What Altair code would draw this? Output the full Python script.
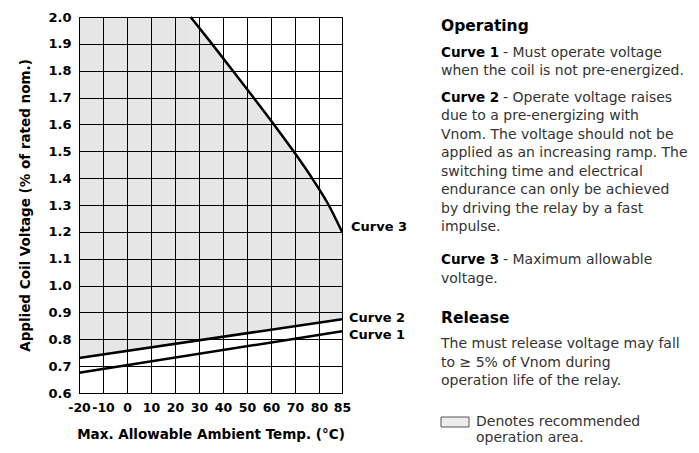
import altair as alt
import pandas as pd

# ---------------- data ----------------
temp_ticks = [-20, -10, 0, 10, 20, 30, 40, 50, 60, 70, 80, 85]
volt_ticks = [0.6, 0.7, 0.8, 0.9, 1.0, 1.1, 1.2, 1.3, 1.4, 1.5, 1.6, 1.7, 1.8, 1.9, 2.0]

curve1_t = [-20, 85]
curve1_v = [0.675, 0.83]
curve2_t = [-20, 85]
curve2_v = [0.73, 0.875]
curve3_t = [26.5, 35.4, 44.1, 52.7, 61.2, 69.4, 77.1, 82.1, 85]
curve3_v = [2.0, 1.9, 1.8, 1.7, 1.6, 1.5, 1.4, 1.3, 1.2]

curve_names = ["Curve 1", "Curve 2", "Curve 3"]

heading1 = "Operating"
para1 = ["- Must operate voltage", "when the coil is not pre-energized."]
para2 = ["- Operate voltage raises", "due to a pre-energizing with",
         "Vnom. The voltage should not be", "applied as an increasing ramp. The",
         "switching time and electrical", "endurance can only be achieved",
         "by driving the relay by a fast", "impulse."]
para3 = ["- Maximum allowable", "voltage."]
heading2 = "Release"
para4 = ["The must release voltage may fall", "to \u2265 5% of Vnom during",
         "operation life of the relay."]
legend_lines = ["Denotes recommended", "operation area."]

# ---------------- layout ----------------
W, H = 263, 376
FONT = "DejaVu Sans"
x_scale = alt.Scale(domain=[-20, 80, 85], range=[0, 240, W], nice=False, zero=False)
y_scale = alt.Scale(domain=[0.6, 2.0], nice=False, zero=False)

x_axis = alt.Axis(values=temp_ticks, labelExpr="'' + datum.value",
                  title="Max. Allowable Ambient Temp. (\u00b0C)",
                  labelFont=FONT, labelFontWeight="bold", labelFontSize=12.5, labelColor="black",
                  labelPadding=8, tickSize=0, labelFlush=False, labelOverlap=False,
                  grid=True, gridColor="black", gridOpacity=1, gridWidth=1,
                  domainColor="black", domainWidth=1,
                  titleFont=FONT, titleFontSize=13.5, titleFontWeight="bold", titleColor="black",
                  titlePadding=14, zindex=1)
y_axis = alt.Axis(values=volt_ticks, format=".1f", title="Applied Coil Voltage (% of rated nom.)",
                  labelFont=FONT, labelFontWeight="bold", labelFontSize=13, labelColor="black",
                  labelPadding=8, tickSize=0, labelFlush=False, labelOverlap=False,
                  grid=True, gridColor="black", gridOpacity=1, gridWidth=1,
                  domainColor="black", domainWidth=1,
                  titleFont=FONT, titleFontSize=13.5, titleFontWeight="bold", titleColor="black",
                  titlePadding=15, zindex=1)

X = alt.X("t:Q", scale=x_scale, axis=x_axis)
Y = alt.Y("v:Q", scale=y_scale, axis=y_axis)
GREY = "#e6e6e6"

# recommended operation area: left block up to where curve 3 starts, then under curve 3
block_df = pd.DataFrame({"t": [curve1_t[0]], "t2": [curve3_t[0]], "v": [curve3_v[0]]})
grey_block = alt.Chart(block_df).mark_rect(color=GREY).encode(
    x=X, x2="t2:Q", y=Y, y2=alt.datum(0.6))
c3_df = pd.DataFrame({"t": curve3_t, "v": curve3_v})
grey_area = alt.Chart(c3_df).mark_area(color=GREY, interpolate="monotone").encode(
    x=X, y=Y, y2=alt.datum(0.6))
low_df = pd.DataFrame({"t": curve2_t, "v": curve2_v})
white = alt.Chart(low_df).mark_area(color="white").encode(
    x=X, y=Y, y2=alt.datum(0.6))

lines = []
for name, ts, vs in zip(curve_names, [curve1_t, curve2_t, curve3_t], [curve1_v, curve2_v, curve3_v]):
    d = pd.DataFrame({"t": ts, "v": vs})
    lines.append(alt.Chart(d).mark_line(color="black", strokeWidth=2.5, interpolate="monotone").encode(
        x=X, y=Y))

layers = [grey_block, grey_area, white] + lines

# curve end labels
ends = [(curve1_t[-1], curve1_v[-1]), (curve2_t[-1], curve2_v[-1]), (curve3_t[-1], curve3_v[-1])]
offsets = [(7, 4), (7, -1), (9, -5)]
for name, (t, v), (dx, dy) in zip(curve_names, ends, offsets):
    d = pd.DataFrame({"t": [t], "v": [v], "label": [name]})
    layers.append(alt.Chart(d).mark_text(font=FONT, fontSize=13, fontWeight="bold", color="black",
                                         align="left", baseline="middle", dx=dx, dy=dy).encode(
        x=X, y=Y, text="label:N"))

# right-hand text block (pixel positions relative to plot origin)
TX = 362
TX2 = 424
def txt(s, x, y, size=14, weight="normal", color="#333333"):
    return alt.Chart(pd.DataFrame({"s": [s]})).mark_text(
        font=FONT, fontSize=size, fontWeight=weight, color=color, align="left",
        baseline="alphabetic").encode(x=alt.value(x), y=alt.value(y), text="s:N")

LH = 18.5
y0 = 14
layers.append(txt(heading1, TX, y0, size=15.5, weight="bold", color="black"))
y = y0 + 25.5
layers.append(txt(curve_names[0], TX, y, size=13.5, weight="bold", color="black"))
layers.append(txt(para1[0], TX2, y))
for s in para1[1:]:
    y += LH
    layers.append(txt(s, TX, y))
y += 26.5
layers.append(txt(curve_names[1], TX, y, size=13.5, weight="bold", color="black"))
layers.append(txt(para2[0], TX2, y))
for s in para2[1:]:
    y += LH
    layers.append(txt(s, TX, y))
y += 33
layers.append(txt(curve_names[2], TX, y, size=13.5, weight="bold", color="black"))
layers.append(txt(para3[0], TX2, y))
for s in para3[1:]:
    y += LH
    layers.append(txt(s, TX, y))
y = 306
layers.append(txt(heading2, TX, y, size=15.5, weight="bold", color="black"))
y += 25
for s in para4:
    layers.append(txt(s, TX, y))
    y += LH
# legend box
layers.append(alt.Chart(pd.DataFrame({"a": [0]})).mark_rect(
    fill="#ececec", stroke="#555555", strokeWidth=1).encode(
    x=alt.value(TX), x2=alt.value(TX + 28), y=alt.value(400), y2=alt.value(410)))
yl = 409
for s in legend_lines:
    layers.append(txt(s, TX + 35, yl))
    yl += 15.5

chart = alt.layer(*layers).properties(
    width=W, height=H,
    autosize=alt.AutoSizeParams(type="none"),
    padding={"left": 71, "top": 9, "right": 349, "bottom": 52},
).configure_view(stroke="black", strokeWidth=1)

chart.save("out.html", embed_options={"renderer": "svg", "actions": False})
